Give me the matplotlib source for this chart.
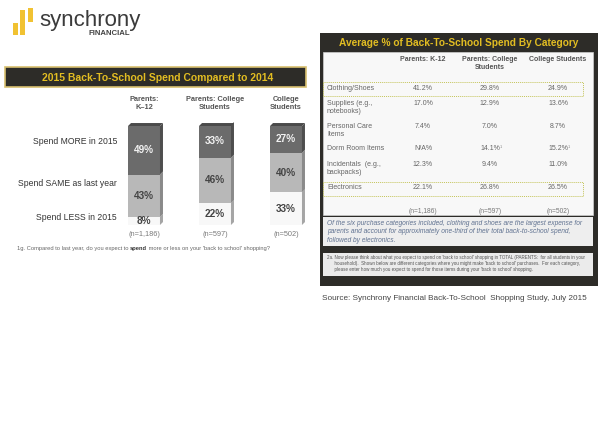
import matplotlib
matplotlib.use("Agg")
import matplotlib.pyplot as plt
from matplotlib.patches import Rectangle, Polygon

plt.rcParams['font.family'] = ['Liberation Sans', 'DejaVu Sans']

# left chart data
groups = ['Parents:\nK–12', 'Parents: College\nStudents', 'College\nStudents']
n_labels = ['(n=1,186)', '(n=597)', '(n=502)']
spend_more = [49, 33, 27]
spend_same = [43, 46, 40]
spend_less = [8, 22, 33]
row_labels = ['Spend MORE in 2015', 'Spend SAME as last year', 'Spend LESS in 2015']

# right table data
table_cols = ['Parents: K-12', 'Parents: College\nStudents', 'College Students']
categories = ['Clothing/Shoes', 'Supplies (e.g.,\nnotebooks)', 'Personal Care\nItems',
              'Dorm Room Items', 'Incidentals  (e.g.,\nbackpacks)', 'Electronics']
k12 = ['41.2%', '17.0%', '7.4%', 'N/A%', '12.3%', '22.1%']
college_parents = ['29.8%', '12.9%', '7.0%', '14.1%', '9.4%', '26.8%']
college_students = ['24.9%', '13.6%', '8.7%', '15.2%', '11.0%', '26.5%']
table_n = ['(n=1,186)', '(n=597)', '(n=502)']

DARK = '#2d2c28'
GOLD = '#e2bd22'
GRAY_TXT = '#555555'

fig = plt.figure(figsize=(6, 4.25), dpi=100)
fig.patch.set_facecolor('white')

# full-figure canvas in pixel units
bg = fig.add_axes([0, 0, 1, 1])
bg.set_xlim(0, 600)
bg.set_ylim(425, 0)
bg.axis('off')

# ---- logo ----
for x, y0, y1 in [(13, 23, 35), (20, 10, 35), (28, 8, 22)]:
    bg.add_patch(Rectangle((x, y0), 5, y1 - y0, color='#f1c232', lw=0))
bg.text(39, 20, 'synchrony', fontsize=16, color='#3b3b3b', va='center', ha='left')
bg.text(109, 33.5, 'FINANCIAL', fontsize=5.6, color='#444444', fontweight='bold',
        va='center', ha='center')

# ---- left title banner ----
bg.add_patch(Rectangle((5, 67), 301, 20, facecolor=DARK, edgecolor='#d8c070', lw=1.2))
bg.text(158, 77.5, '2015 Back-To-School Spend Compared to 2014', fontsize=7.5,
        fontweight='bold', color=GOLD, ha='center', va='center')

# ---- left stacked bars ----
centers_px = [144, 215, 286]
for gx, g in zip(centers_px, groups):
    bg.text(gx, 103, g, fontsize=5.3, fontweight='bold', color=GRAY_TXT,
            ha='center', va='center', linespacing=1.2)
for gx, n in zip(centers_px, n_labels):
    bg.text(gx, 234, n, fontsize=5.3, color='#7a7a7a', ha='center', va='center')
for yy, lab in zip([142, 183, 217], row_labels):
    bg.text(117, yy, lab, fontsize=6.2, color='#333333', ha='right', va='center')

fn1 = bg.text(17, 248.5, "1g. Compared to last year, do you expect to ", fontsize=4.13,
              color='#666666', ha='left', va='center')
fn2 = bg.annotate("spend", xy=(1, 0.5), xycoords=fn1, fontsize=4.13, color='#333333',
                  fontweight='bold', ha='left', va='center')
bg.annotate(" more or less on your 'back to school' shopping?", xy=(1, 0.5), xycoords=fn2,
            fontsize=4.13, color='#666666', ha='left', va='center')

bx = fig.add_axes([110 / 600, (425 - 225) / 425, 200 / 600, 99 / 425])
bx.set_xlim(-0.479, 2.338)
bx.set_ylim(0, 100)
bx.axis('off')
xs = list(range(len(groups)))
w = 0.45
dx = 3 * 2.817 / 200
dy = 3.0
segs = [(spend_less, [0] * 3, '#f8f8f8', '#a5a5a5', '#444444'),
        (spend_same, spend_less, '#b8b8b8', '#8a8a8a', '#444444'),
        (spend_more, [a + b for a, b in zip(spend_less, spend_same)], '#6b6b6b', '#4e4e4e', '#f2f2f2')]
for vals, bottoms, fc, sc, tc in segs:
    bx.bar(xs, vals, w, bottom=bottoms, color=fc, lw=0)
    for x, v, b in zip(xs, vals, bottoms):
        x1 = x + w / 2
        bx.add_patch(Polygon([(x1, b), (x1 + dx, b + dy), (x1 + dx, b + v + dy), (x1, b + v)],
                             closed=True, facecolor=sc, lw=0, clip_on=False))
        bx.text(x, b + v / 2, f'{v}%', fontsize=7.2, fontweight='bold', color=tc,
                ha='center', va='center')
for x in xs:
    x0, x1 = x - w / 2, x + w / 2
    bx.add_patch(Polygon([(x0, 100), (x0 + dx, 100 + dy), (x1 + dx, 100 + dy), (x1, 100)],
                         closed=True, facecolor='#4a4a4a', lw=0, clip_on=False))

# ---- right panel ----
bg.add_patch(Rectangle((320, 33), 278, 253, facecolor=DARK, lw=0))
bg.text(459, 43, 'Average % of Back-To-School Spend By Category', fontsize=7.3,
        fontweight='bold', color=GOLD, ha='center', va='center')
bg.add_patch(Rectangle((323, 52), 270, 163, facecolor='#f8f8f8', edgecolor='#cfcfcf', lw=0.5))

col_x = [423, 490, 558]
for cx, c in zip(col_x, table_cols):
    bg.text(cx, 56, c, fontsize=5.0, fontweight='bold', color=GRAY_TXT,
            ha='center', va='top', linespacing=1.2)

row_top = [85, 100, 123, 145, 161, 184]
for i, yt in enumerate(row_top):
    bg.text(327, yt, categories[i], fontsize=5.0, color='#666666', ha='left', va='top',
            linespacing=1.15)
    for cx, col in zip(col_x, [k12, college_parents, college_students]):
        bg.text(cx, yt, col[i], fontsize=5.0, color='#666666', ha='center', va='top')
# small footnote marks on dorm room items
bg.text(col_x[1] + 10, row_top[3] - 0.5, '1', fontsize=2.8, color='#888888', ha='left', va='top')
bg.text(col_x[2] + 10, row_top[3] - 0.5, '1', fontsize=2.8, color='#888888', ha='left', va='top')

for yb in [82, 182]:
    bg.add_patch(Rectangle((323, yb), 260, 14, facecolor='none', edgecolor='#c4c45a',
                           lw=0.7, ls=(0, (1, 1))))

for cx, n in zip(col_x, table_n):
    bg.text(cx, 211, n, fontsize=4.8, color='#777777', ha='center', va='center')

bg.add_patch(Rectangle((323, 217), 270, 29, facecolor='#eeeeee', lw=0))
bg.text(327, 231.5,
        'Of the six purchase categories included, clothing and shoes are the largest expense for\n'
        'parents and account for approximately one-third of their total back-to-school spend,\n'
        'followed by electronics.',
        fontsize=4.75, style='italic', color='#5f7190', ha='left', va='center', linespacing=1.3)

bg.add_patch(Rectangle((323, 253), 270, 23, facecolor='#ebebeb', lw=0))
bg.text(327, 263.5,
        "2a. Now please think about what you expect to spend on 'back to school' shopping in TOTAL (PARENTS:  for all students in your\n"
        "      household).  Shown below are different categories where you might make 'back to school' purchases.  For each category,\n"
        "      please enter how much you expect to spend for those items during your 'back to school' shopping.",
        fontsize=3.25, color='#555555', ha='left', va='center', linespacing=1.35)

bg.text(322, 298, 'Source: Synchrony Financial Back-To-School  Shopping Study, July 2015',
        fontsize=5.9, color='#444444', ha='left', va='center')

fig.savefig('out.png', dpi=100)
